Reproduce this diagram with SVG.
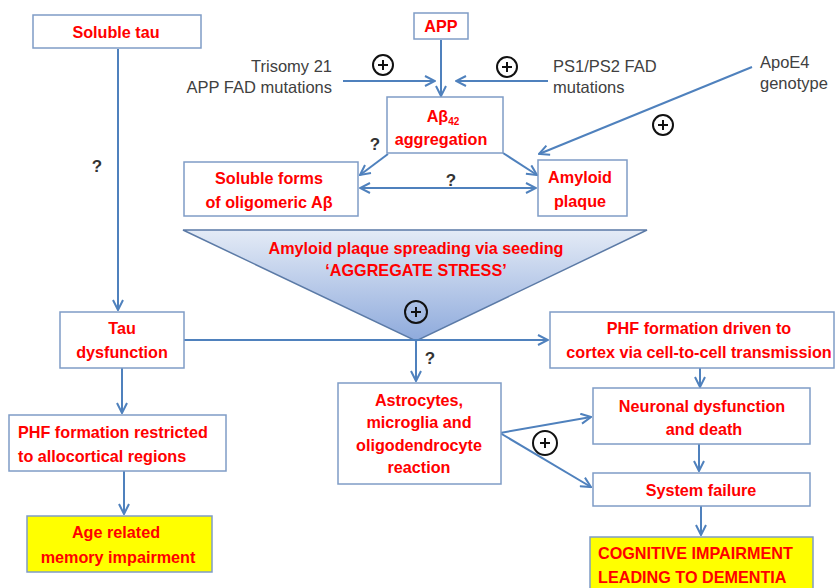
<svg xmlns="http://www.w3.org/2000/svg" width="835" height="588" viewBox="0 0 835 588">
<defs>
<style>
.box{fill:#fff;stroke:#7f9cc6;stroke-width:1.5}
.yel{fill:#ffff00;stroke:#7f9cc6;stroke-width:1.5}
.t{font-family:"Liberation Sans",Arial,sans-serif;font-weight:bold;font-size:16.2px;fill:#ff0000;text-anchor:middle}
.tl{text-anchor:start}
.g{font-family:"Liberation Sans",Arial,sans-serif;font-size:16.5px;fill:#404040}
.q{font-family:"Liberation Sans",Arial,sans-serif;font-weight:bold;font-size:17px;fill:#333;text-anchor:middle}
.c{fill:none;stroke:#4f81bd;stroke-width:2}
.plus circle{fill:none;stroke:#111;stroke-width:2}
.plus path{stroke:#111;stroke-width:2}
</style>
<marker id="ah" viewBox="0 0 12 12" refX="11" refY="6" markerWidth="12" markerHeight="12" markerUnits="userSpaceOnUse" orient="auto">
<polyline points="1,1 11,6 1,11" fill="none" stroke="#4f81bd" stroke-width="2"/>
</marker>
<marker id="ahs" viewBox="0 0 12 12" refX="1" refY="6" markerWidth="12" markerHeight="12" markerUnits="userSpaceOnUse" orient="auto">
<polyline points="11,1 1,6 11,11" fill="none" stroke="#4f81bd" stroke-width="2"/>
</marker>
<linearGradient id="tg" x1="0" y1="0" x2="0" y2="1">
<stop offset="0" stop-color="#e4ebf6"/>
<stop offset="1" stop-color="#8eaadc"/>
</linearGradient>
</defs>
<rect width="835" height="588" fill="#fff"/>

<g id="triangle">
<polygon points="183,230 647,230 416,341" fill="url(#tg)" stroke="#5b7aa6" stroke-width="1.5"/>
<text class="t" x="416" y="254">Amyloid plaque spreading via seeding</text>
<text class="t" x="416" y="276">‘AGGREGATE  STRESS’</text>
</g>

<g id="connectors">
<line class="c" x1="118" y1="49" x2="118" y2="310" marker-end="url(#ah)"/>
<line class="c" x1="441" y1="40" x2="441" y2="96" marker-end="url(#ah)"/>
<line class="c" x1="343" y1="81" x2="435" y2="81" marker-end="url(#ah)"/>
<line class="c" x1="548" y1="81" x2="456" y2="81" marker-end="url(#ah)"/>
<line class="c" x1="752" y1="67" x2="539" y2="154" marker-end="url(#ah)"/>
<line class="c" x1="388" y1="154" x2="360" y2="175" marker-end="url(#ah)"/>
<line class="c" x1="503" y1="153" x2="537" y2="175" marker-end="url(#ah)"/>
<line class="c" x1="360" y1="188" x2="536" y2="188" marker-start="url(#ahs)" marker-end="url(#ah)"/>
<line class="c" x1="184" y1="340" x2="548" y2="340" marker-end="url(#ah)"/>
<line class="c" x1="416" y1="341" x2="416" y2="381" marker-end="url(#ah)"/>
<line class="c" x1="122" y1="368" x2="122" y2="413" marker-end="url(#ah)"/>
<line class="c" x1="124" y1="471" x2="124" y2="514" marker-end="url(#ah)"/>
<line class="c" x1="700" y1="368" x2="700" y2="387" marker-end="url(#ah)"/>
<line class="c" x1="699" y1="444" x2="699" y2="471" marker-end="url(#ah)"/>
<line class="c" x1="701" y1="506" x2="701" y2="535" marker-end="url(#ah)"/>
<line class="c" x1="500" y1="433" x2="591" y2="417" marker-end="url(#ah)"/>
<line class="c" x1="500" y1="433" x2="591" y2="487" marker-end="url(#ah)"/>
</g>

<g id="soluble-tau"><rect class="box" x="33" y="15" width="168" height="33"/><text class="t" x="116" y="38">Soluble tau</text></g>
<g id="app"><rect class="box" x="414" y="13" width="54" height="26"/><text class="t" x="441" y="32">APP</text></g>
<g id="abeta"><rect class="box" x="387" y="97" width="116" height="56"/>
<text class="t" x="443" y="122">Aβ<tspan font-size="10" dy="3">42</tspan></text>
<text class="t" x="441" y="145">aggregation</text></g>
<g id="soluble-forms"><rect class="box" x="184" y="162" width="174" height="54"/>
<text class="t" x="269" y="184">Soluble forms</text><text class="t" x="269" y="208">of oligomeric Aβ</text></g>
<g id="amyloid-plaque"><rect class="box" x="538" y="160" width="89" height="56"/>
<text class="t" x="580" y="183">Amyloid</text><text class="t" x="580" y="207">plaque</text></g>
<g id="tau-dysfunction"><rect class="box" x="60" y="312" width="124" height="56"/>
<text class="t" x="122" y="334">Tau</text><text class="t" x="122" y="358">dysfunction</text></g>
<g id="phf-driven"><rect class="box" x="550" y="312" width="284" height="56"/>
<text class="t" x="699" y="334">PHF formation  driven to</text><text class="t" x="699" y="358">cortex via cell-to-cell transmission</text></g>
<g id="phf-restricted"><rect class="box" x="9" y="415" width="217" height="56"/>
<text class="t tl" x="18" y="438">PHF formation  restricted</text><text class="t tl" x="18" y="462">to allocortical  regions</text></g>
<g id="age-related"><rect class="yel" x="27" y="516" width="185" height="56"/>
<text class="t" x="116" y="538">Age related</text><text class="t" x="118" y="563">memory  impairment</text></g>
<g id="astrocytes"><rect class="box" x="338" y="383" width="163" height="101"/>
<text class="t" x="419" y="406">Astrocytes,</text><text class="t" x="419" y="428">microglia  and</text>
<text class="t" x="419" y="451">oligodendrocyte</text><text class="t" x="419" y="473">reaction</text></g>
<g id="neuronal"><rect class="box" x="593" y="388" width="217" height="56"/>
<text class="t" x="702" y="412">Neuronal  dysfunction</text><text class="t" x="704" y="435">and death</text></g>
<g id="system-failure"><rect class="box" x="593" y="473" width="217" height="33"/>
<text class="t" x="701" y="496">System failure</text></g>
<g id="cognitive"><rect class="yel" x="590" y="537" width="223" height="56"/>
<text class="t tl" x="598" y="559">COGNITIVE  IMPAIRMENT</text><text class="t tl" x="598" y="583">LEADING TO DEMENTIA</text></g>

<g id="labels">
<text class="g" x="332" y="72" text-anchor="end">Trisomy 21</text>
<text class="g" x="332" y="93" text-anchor="end">APP FAD mutations</text>
<text class="g" x="553" y="72">PS1/PS2  FAD</text>
<text class="g" x="553" y="93">mutations</text>
<text class="g" x="760" y="68">ApoE4</text>
<text class="g" x="760" y="89">genotype</text>
<text class="q" x="97" y="172">?</text>
<text class="q" x="375" y="150">?</text>
<text class="q" x="451" y="186">?</text>
<text class="q" x="430" y="364">?</text>
</g>

<g class="plus" id="plus-marks">
<g><circle cx="383" cy="65" r="10"/><path d="M378,65h10M383,60v10"/></g>
<g><circle cx="507" cy="67" r="10"/><path d="M502,67h10M507,62v10"/></g>
<g><circle cx="663" cy="125" r="10"/><path d="M658,125h10M663,120v10"/></g>
<g><circle cx="416" cy="312" r="11"/><path d="M411,312h10M416,307v10"/></g>
<g><circle cx="545" cy="443" r="12"/><path d="M540,443h10M545,438v10"/></g>
</g>
</svg>
